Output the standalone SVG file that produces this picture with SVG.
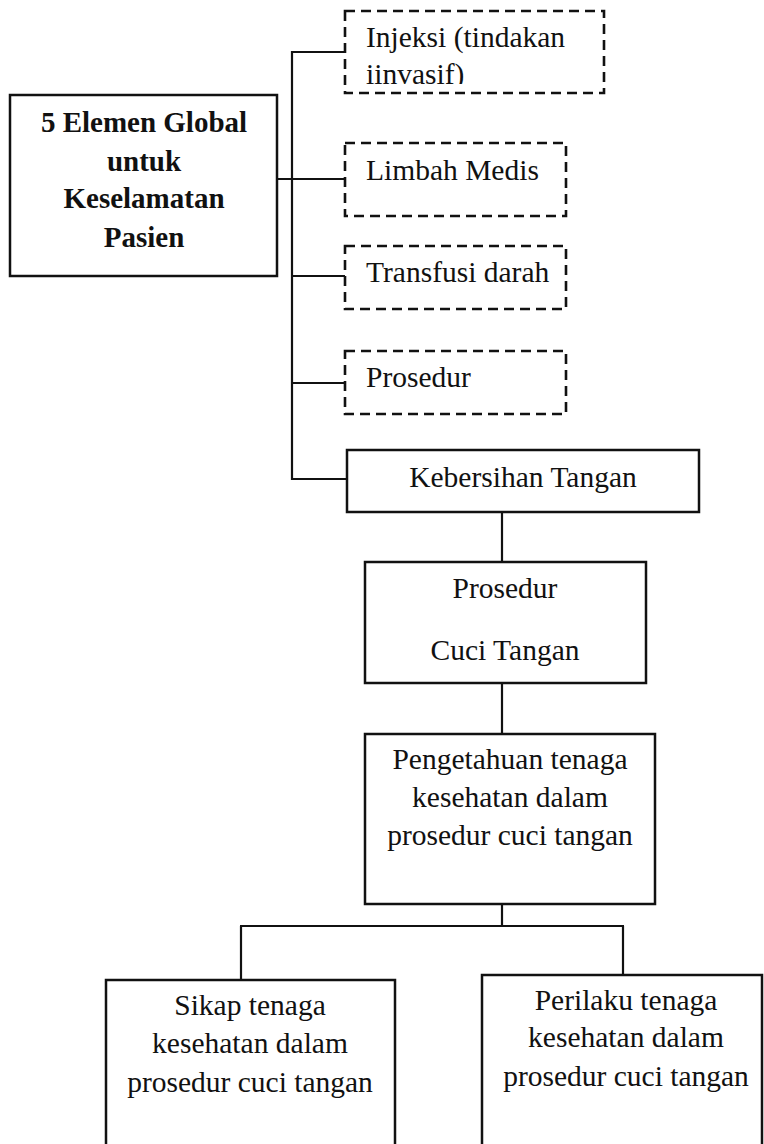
<svg xmlns="http://www.w3.org/2000/svg" width="764" height="1144" viewBox="0 0 764 1144">
<style>
.solid{fill:#fff;stroke:#111;stroke-width:2.5}
.dash{fill:#fff;stroke:#111;stroke-width:2.6;stroke-dasharray:10 6}
.t{font-family:"Liberation Serif","Times New Roman",serif;font-size:29.5px;fill:#111}
.c{text-anchor:middle}
.b{font-weight:bold;font-size:29px}
.conn line{stroke:#111;stroke-width:2.2}
</style>
<defs>
<clipPath id="clipInj"><rect x="340" y="0" width="270" height="84"/></clipPath>
</defs>
<rect width="764" height="1144" fill="#fff"/>
<g class="conn" id="connectors">
<line x1="292" y1="51" x2="292" y2="480"/>
<line x1="292" y1="52" x2="345" y2="52"/>
<line x1="277" y1="179" x2="345" y2="179"/>
<line x1="292" y1="276" x2="345" y2="276"/>
<line x1="292" y1="383" x2="345" y2="383"/>
<line x1="292" y1="479" x2="347" y2="479"/>
<line x1="502" y1="512" x2="502" y2="562"/>
<line x1="502" y1="683" x2="502" y2="734"/>
<line x1="502" y1="904" x2="502" y2="926"/>
<line x1="240" y1="926" x2="624" y2="926"/>
<line x1="241" y1="926" x2="241" y2="980"/>
<line x1="623" y1="926" x2="623" y2="975"/>
</g>
<g id="main">
<rect class="solid" x="10" y="95" width="267" height="181"/>
<text class="t c b" x="144" y="132">5 Elemen Global</text>
<text class="t c b" x="144" y="171">untuk</text>
<text class="t c b" x="144" y="208">Keselamatan</text>
<text class="t c b" x="144" y="247">Pasien</text>
</g>
<g id="injeksi">
<rect class="dash" x="345" y="11" width="259" height="82"/>
<g clip-path="url(#clipInj)">
<text class="t" x="366" y="47">Injeksi (tindakan</text>
<text class="t" x="366" y="84">iinvasif)</text>
</g>
</g>
<g id="limbah">
<rect class="dash" x="345" y="143" width="221" height="73"/>
<text class="t" x="366" y="180">Limbah Medis</text>
</g>
<g id="transfusi">
<rect class="dash" x="345" y="246" width="221" height="63"/>
<text class="t" x="366" y="282">Transfusi darah</text>
</g>
<g id="prosedur">
<rect class="dash" x="345" y="351" width="221" height="63"/>
<text class="t" x="366" y="387">Prosedur</text>
</g>
<g id="kebersihan">
<rect class="solid" x="347" y="450" width="352" height="62"/>
<text class="t c" x="523" y="487">Kebersihan Tangan</text>
</g>
<g id="cuci">
<rect class="solid" x="365" y="562" width="281" height="121"/>
<text class="t c" x="505" y="598">Prosedur</text>
<text class="t c" x="505" y="660">Cuci Tangan</text>
</g>
<g id="pengetahuan">
<rect class="solid" x="365" y="734" width="290" height="170"/>
<text class="t c" x="510" y="769">Pengetahuan tenaga</text>
<text class="t c" x="510" y="807">kesehatan dalam</text>
<text class="t c" x="510" y="845">prosedur cuci tangan</text>
</g>
<g id="sikap">
<rect class="solid" x="106" y="980" width="289" height="180"/>
<text class="t c" x="250" y="1015">Sikap tenaga</text>
<text class="t c" x="250" y="1053">kesehatan dalam</text>
<text class="t c" x="250" y="1092">prosedur cuci tangan</text>
</g>
<g id="perilaku">
<rect class="solid" x="482" y="975" width="280" height="185"/>
<text class="t c" x="626" y="1010">Perilaku tenaga</text>
<text class="t c" x="626" y="1047">kesehatan dalam</text>
<text class="t c" x="626" y="1086">prosedur cuci tangan</text>
</g>
</svg>
